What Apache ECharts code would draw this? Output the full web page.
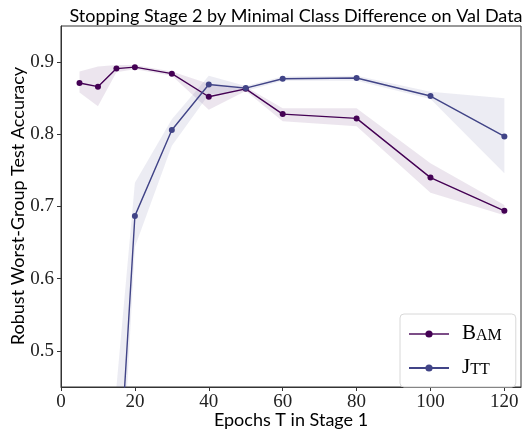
<!DOCTYPE html>
<html>
<head>
    <meta charset="utf-8">
    <title>Stopping Stage 2</title>
    <script src="https://cdn.jsdelivr.net/npm/echarts@6.0.0/dist/echarts.min.js"></script>
    <style>
        body { margin: 0; background: #fff; }
        #chart { width: 522px; height: 431px; }
    </style>
</head>
<body>
    <div id="chart"></div>
    <script>
        // 数据
        var epochs = [5, 10, 15, 20, 30, 40, 50, 60, 80, 100, 120];
        var bam = [0.871, 0.866, 0.891, 0.893, 0.884, 0.852, 0.863, 0.828, 0.822, 0.740, 0.694];
        var bamLow = [0.858, 0.839, 0.886, 0.890, 0.881, 0.834, 0.860, 0.818, 0.811, 0.719, 0.688];
        var bamHigh = [0.887, 0.894, 0.896, 0.896, 0.887, 0.870, 0.866, 0.836, 0.836, 0.760, 0.702];
        var jtt = [null, null, 0.26, 0.687, 0.806, 0.869, 0.864, 0.877, 0.878, 0.853, 0.797];
        var jttLow = [null, null, 0.18, 0.644, 0.784, 0.855, 0.860, 0.874, 0.874, 0.849, 0.746];
        var jttHigh = [null, null, 0.45, 0.733, 0.821, 0.881, 0.867, 0.880, 0.881, 0.859, 0.850];
        var xTicks = [0, 20, 40, 60, 80, 100, 120];
        var yTicks = [0.5, 0.6, 0.7, 0.8, 0.9];

        var bamColor = '#440154';
        var jttColor = '#414487';

        function pairs(ys) {
            return epochs.map(function (x, i) { return [x, ys[i]]; });
        }
        function triples(lo, hi) {
            var out = [];
            epochs.forEach(function (x, i) {
                if (lo[i] != null) out.push([x, lo[i], hi[i]]);
            });
            return out;
        }
        // 置信带：整条多边形只在第一个数据项画一次
        function band(data, color) {
            return {
                type: 'custom', data: data, silent: true, z: 1,
                renderItem: function (params, api) {
                    if (params.dataIndex !== 0) return null;
                    var top = [], bottom = [];
                    data.forEach(function (d) {
                        top.push(api.coord([d[0], d[2]]));
                        bottom.unshift(api.coord([d[0], d[1]]));
                    });
                    var cs = params.coordSys;
                    return {
                        type: 'polygon',
                        shape: { points: top.concat(bottom) },
                        style: { fill: color, stroke: 'none' },
                        clipPath: { type: 'rect', shape: { x: cs.x, y: cs.y, width: cs.width, height: cs.height } }
                    };
                }
            };
        }

        var myChart = echarts.init(document.getElementById('chart'));
        var serif = '"Liberation Serif", serif';
        var sans = 'Lato, "DejaVu Sans", sans-serif';

        myChart.setOption({
            animation: false,
            title: {
                text: 'Stopping Stage 2 by Minimal Class Difference on Val Data',
                left: 291, textAlign: 'center', top: 2,
                textStyle: { fontFamily: sans, fontWeight: 'normal', fontSize: 18, color: '#000' }
            },
            // 坐标轴标题用 graphic 放置
            graphic: [
                {
                    type: 'text', x: 291, y: 420,
                    style: { text: 'Epochs T in Stage 1', font: '18px ' + sans, fill: '#000', align: 'center', verticalAlign: 'middle' }
                },
                {
                    type: 'text', x: 18, y: 206, rotation: Math.PI / 2,
                    style: { text: 'Robust Worst-Group Test Accuracy', font: '18px ' + sans, fill: '#000', align: 'center', verticalAlign: 'middle' }
                }
            ],
            grid: {
                left: 61, right: 1, top: 26, bottom: 44, show: true,
                borderColor: '#333', borderWidth: 1,
                containLabel: false, outerBoundsMode: 'none'
            },
            legend: {
                orient: 'vertical', left: 400, top: 314,
                width: 112,
                backgroundColor: 'rgba(255,255,255,0.8)',
                borderColor: '#d8d8d8', borderWidth: 1, borderRadius: 4,
                padding: [9, 14, 9, 8], itemGap: 13,
                itemWidth: 40, itemHeight: 9,
                data: [
                    { name: 'Bam', itemStyle: { color: bamColor }, lineStyle: { color: 'rgba(68,1,84,0.7)' } },
                    { name: 'Jtt', itemStyle: { color: jttColor } }
                ],
                formatter: function (name) {
                    return name === 'Bam' ? '{b|B}{s|AM}' : '{b|J}{s|TT}';
                },
                textStyle: {
                    padding: [0, 0, 0, 8],
                    rich: {
                        b: { fontFamily: serif, fontSize: 21, color: '#000', verticalAlign: 'bottom', lineHeight: 20 },
                        s: { fontFamily: serif, fontSize: 16, color: '#000', verticalAlign: 'bottom', lineHeight: 18 }
                    }
                }
            },
            xAxis: {
                type: 'value', min: 0, max: 124.5,
                axisLine: { lineStyle: { color: '#333' } },
                axisTick: { show: true, length: 4, customValues: xTicks, lineStyle: { color: '#333' } },
                axisLabel: { customValues: xTicks, fontFamily: serif, fontSize: 19, color: '#222', margin: 6 },
                splitLine: { show: false }
            },
            yAxis: {
                type: 'value', min: 0.45, max: 0.95,
                axisLine: { show: true, lineStyle: { color: '#333' } },
                axisTick: { show: true, length: 4, customValues: yTicks, lineStyle: { color: '#333' } },
                axisLabel: {
                    customValues: yTicks, fontFamily: serif, fontSize: 19, color: '#222', margin: 7,
                    formatter: function (v) { return v.toFixed(1); }
                },
                splitLine: { show: false }
            },
            series: [
                band(triples(bamLow, bamHigh), 'rgba(68,1,84,0.1)'),
                band(triples(jttLow, jttHigh), 'rgba(65,68,135,0.1)'),
                {
                    name: 'Bam', type: 'line', data: pairs(bam), z: 3,
                    symbol: 'circle', symbolSize: 6, showAllSymbol: true,
                    itemStyle: { color: bamColor }, lineStyle: { color: bamColor, width: 1.4 }
                },
                {
                    name: 'Jtt', type: 'line', data: pairs(jtt), z: 3,
                    symbol: 'circle', symbolSize: 6, showAllSymbol: true,
                    itemStyle: { color: jttColor }, lineStyle: { color: jttColor, width: 1.4 }
                }
            ]
        });
    </script>
</body>
</html>
